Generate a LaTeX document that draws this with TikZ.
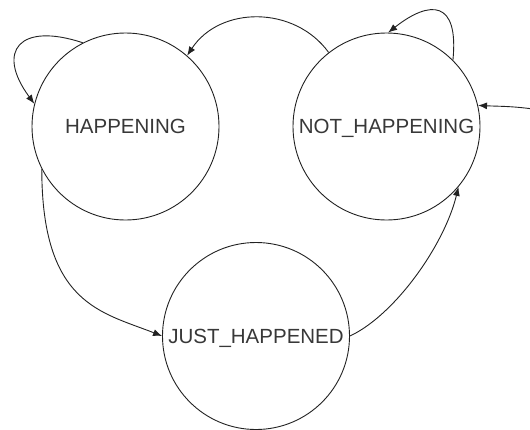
\documentclass[tikz,border=0pt]{standalone}
\usepackage{fontspec}
\setmainfont{Liberation Sans}
\usetikzlibrary{arrows.meta}
\definecolor{ink}{HTML}{222222}
\tikzset{
  state/.style={circle, draw=ink, line width=0.9pt, minimum size=187pt, inner sep=0pt,
    font=\fontsize{20.5}{24}\selectfont, text=ink!90, text height=14.7pt, text depth=0pt},
  trans/.style={draw=ink, line width=0.9pt, -{Latex[length=9pt,width=7pt]}}
}
\begin{document}
\begin{tikzpicture}[x=1pt,y=-1pt]
\useasboundingbox (0,0) rectangle (530,429);
\node[state] (h) at (125.5,126.5) {HAPPENING};
\node[state] (n) at (386.5,126.5) {NOT\_HAPPENING};
\node[state] (j) at (256,336) {JUST\_HAPPENED};
\coordinate (init) at (533,109);
% self loops
\draw[trans] (h.117) .. controls +(-63,-21) and +(-39,-53) .. (h.166);
\draw[trans] (n.45) .. controls +(6,-60) and +(42,-33) .. (n.89);
% NOT_HAPPENING -> HAPPENING
\draw[trans] (n.128) .. controls +(-34,-47) and +(33,-50) .. (h.49);
% HAPPENING -> JUST_HAPPENED
\draw[trans] (h.207) .. controls +(0,135) and +(-61,-24) .. (j.180);
% JUST_HAPPENED -> NOT_HAPPENING
\draw[trans] (j.0) .. controls +(45,-21) and +(-14,58) .. (n.320);
% initial
\draw[trans] (init) .. controls +(-22,-3) and +(20,1) .. (n.13);
\end{tikzpicture}
\end{document}
